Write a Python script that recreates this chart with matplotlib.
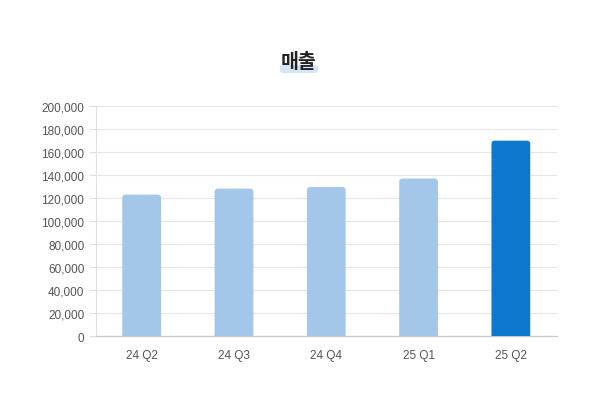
import matplotlib
matplotlib.use("Agg")
import matplotlib.pyplot as plt
from matplotlib.patches import FancyBboxPatch
from matplotlib.ticker import FuncFormatter, MultipleLocator

plt.rcParams["font.family"] = ["Liberation Sans", "Noto Sans CJK KR", "DejaVu Sans"]

quarters = ["24 Q2", "24 Q3", "24 Q4", "25 Q1", "25 Q2"]
sales = [122900, 128100, 129500, 136800, 169700]
bar_colors = ["#a4c6e9", "#a4c6e9", "#a4c6e9", "#a4c6e9", "#0d78cc"]
title = "매출"

W, H = 591, 406
fig = plt.figure(figsize=(W / 100, H / 100), dpi=100)
ax = fig.add_axes([95.5 / W, 1 - 337.3 / H, (557 - 95.5) / W, (337.3 - 106.7) / H])

ymax = 200000
ax.set_xlim(-0.5, len(quarters) - 0.5)
ax.set_ylim(0, ymax)

# rounded-top bars: radius in pixels converted to data units
bar_w = 0.42
radius_px = 3.5
ax_w_px = 557 - 95.5
ax_h_px = 337.3 - 106.7
x_per_px = len(quarters) / ax_w_px
y_per_px = ymax / ax_h_px
for i, (v, c) in enumerate(zip(sales, bar_colors)):
    p = FancyBboxPatch(
        (i - bar_w / 2, -ymax * 0.05), bar_w, v + ymax * 0.05,
        boxstyle=f"round,pad=0,rounding_size={radius_px * x_per_px}",
        mutation_aspect=y_per_px / x_per_px,
        facecolor=c, edgecolor="none", zorder=3, clip_on=True,
    )
    ax.add_patch(p)

ax.set_xticks(range(len(quarters)))
ax.set_xticklabels(quarters)
ax.yaxis.set_major_locator(MultipleLocator(20000))
ax.yaxis.set_major_formatter(FuncFormatter(lambda v, _: f"{int(v):,}"))
ax.tick_params(axis="x", length=0, pad=9, labelsize=8.5, labelcolor="#555555")
ax.tick_params(axis="y", length=5, width=0.8, color="#dddddd", pad=3,
               labelsize=8.5, labelcolor="#555555")
ax.grid(axis="y", color="#e6e6e6", linewidth=0.8, zorder=0)
ax.set_axisbelow(True)
for s in ["top", "right"]:
    ax.spines[s].set_visible(False)
ax.spines["left"].set_color("#e0e0e0")
ax.spines["left"].set_linewidth(0.8)
ax.spines["bottom"].set_color("#c8c8c8")
ax.spines["bottom"].set_linewidth(0.9)

# title with light highlight underneath
hl = FancyBboxPatch((280 / W, 1 - 74 / H), 38 / W, 8 / H,
                    boxstyle="round,pad=0,rounding_size=0.006",
                    transform=fig.transFigure, facecolor="#d4e5f8",
                    edgecolor="none", zorder=0)
fig.patches.append(hl)
fig.text(299 / W, 1 - 62 / H, title, ha="center", va="center",
         fontsize=14, fontweight="bold", color="#222222",
         family=["Noto Sans CJK KR", "DejaVu Sans"], zorder=2)

fig.savefig("out.png", dpi=100)
